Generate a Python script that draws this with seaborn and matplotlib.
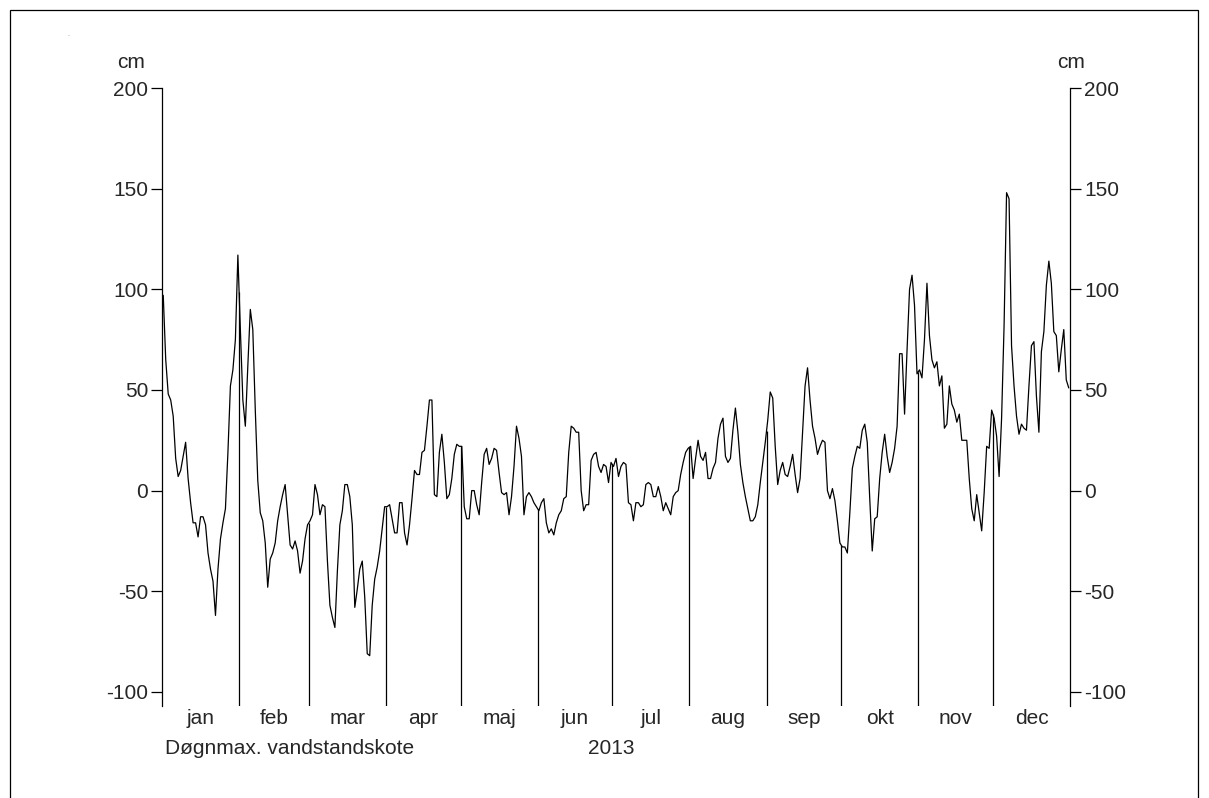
import numpy as np
import pandas as pd
import matplotlib
matplotlib.use("Agg")
import matplotlib.pyplot as plt
import matplotlib.dates as mdates
from matplotlib.patches import Rectangle
import seaborn as sns

# daily max water level 2013 (cm)
jan = [97, 65, 48, 45, 37, 16, 7, 10, 17, 24, 6, -6, -16, -16, -23, -13, -13, -17, -31, -39,
       -45, -62, -39, -24, -16, -9, 19, 52, 60, 75, 117]
feb = [80, 45, 32, 62, 90, 80, 40, 5, -11, -15, -26, -48, -34, -31, -26, -15, -8, -2, 3, -12,
       -27, -29, -25, -30, -41, -35, -24, -17]
mar = [-15, -12, 3, -2, -12, -7, -8, -35, -57, -63, -68, -40, -17, -10, 3, 3, -3, -17, -58, -49,
       -39, -35, -53, -81, -82, -57, -44, -38, -30, -19, -8]
apr = [-8, -7, -14, -21, -21, -6, -6, -21, -27, -17, -4, 10, 8, 8, 19, 20, 32, 45, 45, -2,
       -3, 19, 28, 14, -4, -2, 6, 18, 23, 22]
maj = [22, -8, -14, -14, 0, 0, -7, -12, 4, 18, 21, 13, 16, 21, 20, 9, -1, -2, -1, -12,
       -3, 12, 32, 26, 17, -12, -3, -1, -3, -6, -8]
jun = [-10, -6, -4, -16, -21, -19, -22, -16, -12, -10, -4, -3, 19, 32, 31, 29, 29, 0, -10, -7,
       -7, 15, 18, 19, 12, 9, 13, 12, 4, 14]
jul = [12, 16, 7, 12, 14, 13, -6, -7, -15, -6, -6, -8, -7, 3, 4, 3, -3, -3, 2, -3,
       -10, -6, -9, -12, -3, -1, 0, 8, 14, 19, 21]
aug = [22, 6, 16, 25, 17, 15, 19, 6, 6, 11, 14, 26, 33, 36, 17, 14, 16, 30, 41, 29,
       13, 4, -3, -9, -15, -15, -13, -7, 4, 14, 24]
sep = [35, 49, 46, 22, 3, 10, 14, 8, 7, 12, 18, 8, -1, 6, 29, 52, 61, 45, 32, 26,
       18, 22, 25, 24, 0, -4, 1, -5, -15, -26]
okt = [-28, -28, -31, -11, 11, 17, 22, 21, 30, 33, 24, -4, -30, -14, -13, 6, 19, 28, 17, 9,
       14, 21, 32, 68, 68, 38, 70, 100, 107, 92, 58]
nov = [60, 56, 75, 103, 77, 65, 61, 64, 52, 57, 31, 33, 52, 43, 40, 34, 38, 25, 25, 25,
       6, -9, -15, -2, -11, -20, -1, 22, 21, 40]
dec = [36, 27, 7, 36, 82, 148, 145, 72, 52, 37, 28, 33, 31, 30, 52, 72, 74, 47, 29, 69,
       79, 102, 114, 103, 79, 77, 59, 70, 80, 55, 51]

month_labels = ["jan", "feb", "mar", "apr", "maj", "jun", "jul", "aug", "sep", "okt", "nov", "dec"]
y_ticks = [-100, -50, 0, 50, 100, 150, 200]

values = np.array(jan + feb + mar + apr + maj + jun + jul + aug + sep + okt + nov + dec, dtype=float)
dates = pd.date_range("2013-01-01 12:00", periods=len(values), freq="D")
df = pd.DataFrame({"date": dates, "level": values})

sns.set_style("white")
plt.rcParams["font.family"] = ["Liberation Sans", "DejaVu Sans"]
FS = 15

W, H = 1209, 798
fig = plt.figure(figsize=(W / 100, H / 100), dpi=100)
ax = fig.add_axes([162 / W, 1 - 706 / H, (1070 - 162) / W, (706 - 88) / H])

sns.lineplot(data=df, x="date", y="level", ax=ax, color="black", linewidth=0.9)

ymin = -107
ax.set_ylim(ymin, 200)
ax.set_xlim(pd.Timestamp("2013-01-01"), pd.Timestamp("2014-01-01"))

# month separators, from the bottom up to the curve
month_starts = pd.date_range("2013-02-01", periods=11, freq="MS")
xnum = mdates.date2num(df["date"])
sep_h = np.interp(mdates.date2num(month_starts), xnum, values)
ax.vlines(month_starts, ymin, sep_h, color="black", linewidth=0.9)

# month names centred in each month
all_starts = pd.date_range("2013-01-01", periods=13, freq="MS")
mids = all_starts[:-1] + (all_starts[1:] - all_starts[:-1]) / 2
lab_y = -(718 - 706) / (706 - 88)
for m, lab in zip(mids, month_labels):
    ax.text(m, lab_y, lab, transform=ax.get_xaxis_transform(), ha="center", va="center", fontsize=FS)

ax.set_xticks([])
ax.set_yticks(y_ticks)
ax.set_yticklabels([str(v) for v in y_ticks], fontsize=FS)
ax.tick_params(axis="y", which="both", left=True, right=True, labelleft=True, labelright=True,
               direction="out", length=8, width=0.9, color="black", pad=2)
for s in ["top", "bottom"]:
    ax.spines[s].set_visible(False)
for s in ["left", "right"]:
    ax.spines[s].set_color("black")
    ax.spines[s].set_linewidth(0.9)
ax.set_xlabel("")
ax.set_ylabel("")

fig.text(131 / W, 1 - 62 / H, "cm", ha="center", va="center", fontsize=FS)
fig.text(1071 / W, 1 - 62 / H, "cm", ha="center", va="center", fontsize=FS)
fig.text(165 / W, 1 - 748 / H, "Døgnmax. vandstandskote", ha="left", va="center", fontsize=FS)
fig.text(611 / W, 1 - 748 / H, "2013", ha="center", va="center", fontsize=FS)
fig.text(68 / W, 1 - 35 / H, ".", ha="center", va="center", fontsize=5, color="#777777")

fig.patches.append(Rectangle((10 / W, -0.02), 1188 / W, 1 - 10 / H + 0.02, transform=fig.transFigure,
                             fill=False, edgecolor="black", linewidth=0.9))

fig.savefig("out.png", dpi=100, facecolor="white")
